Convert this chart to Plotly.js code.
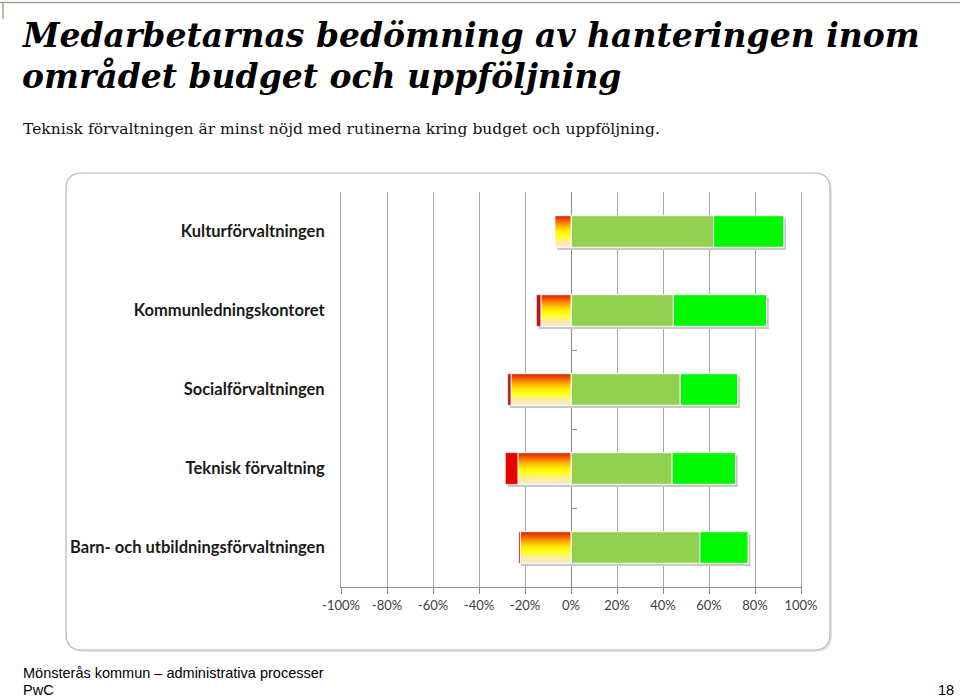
<!DOCTYPE html>
<html>
<head>
<meta charset="utf-8">
<script src="https://cdn.plot.ly/plotly-3.0.1.min.js"></script>
<style>
  html, body { margin: 0; padding: 0; background: #fff; }
  #chart { width: 960px; height: 698px; }
</style>
</head>
<body>
<div id="chart"></div>
<script>
// categories, top to bottom as in the picture
const categories = ['Kulturförvaltningen', 'Kommunledningskontoret', 'Socialförvaltningen', 'Teknisk förvaltning', 'Barn- och utbildningsförvaltningen'];
// share of answers, percent
const veryDissatisfied = [0, 2, 1.5, 5.5, 0.7];
const dissatisfied = [7, 13, 26, 23, 22];
const satisfied = [62, 44.5, 47.5, 44, 56];
const verySatisfied = [30.5, 40.5, 25, 27.5, 21];
const tickValues = [-100, -80, -60, -40, -20, 0, 20, 40, 60, 80, 100];
const tickLabels = ['-100%', '-80%', '-60%', '-40%', '-20%', '0%', '20%', '40%', '60%', '80%', '100%'];

const n = categories.length;
const pos = categories.map((c, i) => n - 1 - i);
const barW = 0.4;

// plot area in pixels, used to place paper shapes/texts
const L = 341, R = 801, T = 192, B = 587;
const xp = x => (x - L) / (R - L);
const yp = y => (B - y) / (B - T);

const traces = [];

// drop shadow behind each bar (on the bottom axis y, everything else on y2 above it)
traces.push({
    type: 'bar', orientation: 'h',
    y: pos.map(p => p - 0.035),
    x: categories.map((c, i) => veryDissatisfied[i] + dissatisfied[i] + satisfied[i] + verySatisfied[i]),
    base: categories.map((c, i) => -(veryDissatisfied[i] + dissatisfied[i]) + 1.0),
    width: barW,
    opacity: 1,
    marker: {color: '#c8c8c8', line: {width: 0}},
    hoverinfo: 'skip', showlegend: false
});

traces.push({
    type: 'bar', orientation: 'h', y: pos, x: satisfied, base: 0, width: barW, opacity: 1, yaxis: 'y2',
    marker: {color: '#92d050', line: {color: '#ffffff', width: 1}},
    hoverinfo: 'skip', showlegend: false
});
traces.push({
    type: 'bar', orientation: 'h', y: pos, x: verySatisfied, base: satisfied, width: barW, opacity: 1, yaxis: 'y2',
    marker: {color: '#00f800', line: {color: '#ffffff', width: 1}},
    hoverinfo: 'skip', showlegend: false
});
traces.push({
    type: 'bar', orientation: 'h', y: pos, x: veryDissatisfied.map(v => -v),
    base: dissatisfied.map(v => -v), width: barW, opacity: 1, yaxis: 'y2',
    marker: {color: ['#c00000', '#b3161c', '#b3161c', '#e80000', '#b3161c'], line: {color: '#ffffff', width: 0.5}},
    hoverinfo: 'skip', showlegend: false
});

// gradient part (red -> yellow -> cream), one filled shape per bar
categories.forEach((c, i) => {
    const p = pos[i], d = dissatisfied[i];
    traces.push({
        type: 'scatter', mode: 'lines', yaxis: 'y2',
        x: [0, -d, -d, 0, 0],
        y: [p - barW / 2, p - barW / 2, p + barW / 2, p + barW / 2, p - barW / 2],
        fill: 'toself',
        fillgradient: {
            type: 'vertical',
            colorscale: [[0, '#fde6c6'], [0.15, '#fdeab0'], [0.32, '#ffff30'], [0.5, '#fff000'],
                [0.68, '#ffb000'], [0.84, '#f56000'], [1, '#d81a00']]
        },
        line: {color: '#ffffff', width: 1},
        hoverinfo: 'skip', showlegend: false
    });
});

// rounded frame around the chart
function roundRect(x0, y0, x1, y1, r) {
    const P = (x, y) => xp(x) + ',' + yp(y);
    return 'M' + P(x0 + r, y0) + ' L' + P(x1 - r, y0) + ' Q' + P(x1, y0) + ' ' + P(x1, y0 + r) +
        ' L' + P(x1, y1 - r) + ' Q' + P(x1, y1) + ' ' + P(x1 - r, y1) +
        ' L' + P(x0 + r, y1) + ' Q' + P(x0, y1) + ' ' + P(x0, y1 - r) +
        ' L' + P(x0, y0 + r) + ' Q' + P(x0, y0) + ' ' + P(x0 + r, y0) + ' Z';
}

const shapes = [
    {type: 'path', xref: 'paper', yref: 'paper', layer: 'below', path: roundRect(68, 175, 832, 652, 16),
        fillcolor: '#e4e4e4', line: {width: 0}},
    {type: 'path', xref: 'paper', yref: 'paper', layer: 'below', path: roundRect(66, 173, 830, 650, 16),
        fillcolor: '#ffffff', line: {color: '#b8b8b8', width: 1.2}},
    // thin rule top left of the slide
    {type: 'line', xref: 'paper', yref: 'paper', x0: xp(0), x1: xp(960), y0: yp(2.5), y1: yp(2.5),
        line: {color: '#a9a48e', width: 1.5}},
    {type: 'line', xref: 'paper', yref: 'paper', x0: xp(3), x1: xp(3), y0: yp(2.5), y1: yp(19),
        line: {color: '#a9a48e', width: 1.5}}
];

const serif = 'DejaVu Serif, Georgia, serif';
const sans = 'Liberation Sans, Arial, sans-serif';
const annotations = [
    {text: '<b><i>Medarbetarnas bedömning av hanteringen inom</i></b>', x: xp(20), y: yp(36),
        font: {family: serif, size: 33, color: '#000'}},
    {text: '<b><i>området budget och uppföljning</i></b>', x: xp(20), y: yp(76),
        font: {family: serif, size: 33, color: '#000'}},
    {text: 'Teknisk förvaltningen är minst nöjd med rutinerna kring budget och uppföljning.', x: xp(21), y: yp(129),
        font: {family: serif, size: 15.5, color: '#111'}},
    {text: 'Mönsterås kommun – administrativa processer', x: xp(21), y: yp(673),
        font: {family: sans, size: 14.5, color: '#000'}},
    {text: 'PwC', x: xp(21), y: yp(690),
        font: {family: sans, size: 14.5, color: '#000'}},
    {text: '18', x: xp(956), y: yp(690), xanchor: 'right',
        font: {family: sans, size: 14.5, color: '#000'}}
].map(a => Object.assign({xref: 'paper', yref: 'paper', xanchor: 'left', yanchor: 'middle', showarrow: false}, a));

const layout = {
    width: 960, height: 698,
    margin: {l: L, r: 960 - R, t: T, b: 698 - B, pad: 0},
    paper_bgcolor: '#ffffff',
    plot_bgcolor: 'rgba(0,0,0,0)',
    barmode: 'overlay',
    showlegend: false,
    xaxis: {
        range: [-100, 100], tickvals: tickValues, ticktext: tickLabels,
        showgrid: true, gridcolor: '#a8a8a8', gridwidth: 1,
        zeroline: false,
        showline: true, linecolor: '#8c8c8c', linewidth: 1,
        ticks: 'outside', ticklen: 6, tickcolor: '#8c8c8c',
        tickfont: {family: 'Lato, sans-serif', size: 13, color: '#404040'},
        fixedrange: true
    },
    yaxis: {
        range: [-0.5, n - 0.5], tickvals: pos, ticktext: categories,
        showgrid: false, zeroline: false,
        showline: true, mirror: true, linecolor: '#a8a8a8', linewidth: 1,
        ticks: '',
        ticklabelstandoff: 12,
        tickfont: {family: 'Lato, sans-serif', size: 16.5, color: '#1a1a1a', weight: 'bold'},
        fixedrange: true
    },
    // axis drawn on the 0% line with small ticks between categories
    yaxis2: {
        overlaying: 'y', anchor: 'free', position: 0.5, side: 'right',
        range: [-0.5, n - 0.5], tickvals: pos.slice(1).map(p => p - 0.5),
        showticklabels: false, showgrid: false, zeroline: false,
        showline: true, linecolor: '#8c8c8c', linewidth: 1,
        ticks: 'outside', ticklen: 5, tickcolor: '#8c8c8c',
        layer: 'below traces',
        fixedrange: true
    },
    shapes: shapes,
    annotations: annotations
};

Plotly.newPlot('chart', traces, layout, {displayModeBar: false, staticPlot: true});
</script>
</body>
</html>
